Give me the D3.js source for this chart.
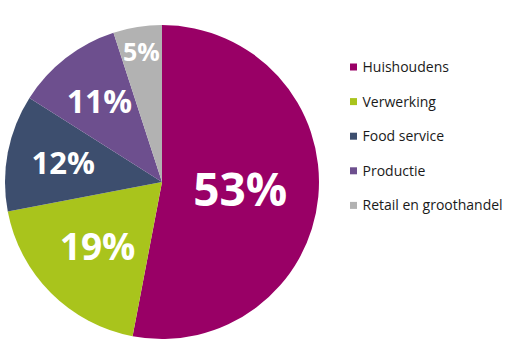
<!DOCTYPE html>
<html>
<head>
<meta charset="utf-8">
<script src="https://cdn.jsdelivr.net/npm/d3@7"></script>
<style>
  html, body { margin: 0; padding: 0; background: #ffffff; }
  svg { display: block; }
</style>
</head>
<body>
<svg id="chart" width="527" height="358"></svg>
<script>
const categories = ["Huishoudens", "Verwerking", "Food service", "Productie", "Retail en groothandel"];
const values = [53, 19, 12, 11, 5];
const labels = ["53%", "19%", "12%", "11%", "5%"];
const colors = ["#990066", "#A9C41C", "#3D4E6E", "#6D4F8E", "#B2B2B2"];

// layout (not data)
const labelRadiusFrac = [0.50, 0.58, 0.64, 0.65, 0.84];
const labelFontSize = [46, 37, 31, 32, 25];

const svg = d3.select("#chart");
const cx = 162, cy = 182, r = 157;

const pie = d3.pie().sort(null).value(d => d)(values);
const arc = d3.arc().innerRadius(0).outerRadius(r);

const g = svg.append("g").attr("transform", `translate(${cx},${cy})`);
g.selectAll("path.slice")
  .data(pie)
  .join("path")
  .attr("class", "slice")
  .attr("d", arc)
  .attr("fill", (d, i) => colors[i]);

g.selectAll("text.lbl")
  .data(pie)
  .join("text")
  .attr("class", "lbl")
  .attr("transform", (d, i) => {
    const a = d3.arc().innerRadius(r * labelRadiusFrac[i]).outerRadius(r * labelRadiusFrac[i]);
    const c = a.centroid(d);
    return `translate(${c[0]},${c[1]})`;
  })
  .attr("text-anchor", "middle")
  .attr("dy", "0.36em")
  .attr("fill", "#ffffff")
  .attr("font-family", "'Open Sans', sans-serif")
  .attr("font-weight", "bold")
  .attr("font-size", (d, i) => labelFontSize[i])
  .text((d, i) => labels[i]);

const legend = svg.append("g").attr("transform", "translate(350,67)");
const row = legend.selectAll("g.item")
  .data(categories)
  .join("g")
  .attr("class", "item")
  .attr("transform", (d, i) => `translate(0,${i * 34.6})`);
row.append("rect")
  .attr("x", 0).attr("y", -3.5)
  .attr("width", 7).attr("height", 7)
  .attr("fill", (d, i) => colors[i]);
row.append("text")
  .attr("x", 12.5)
  .attr("dy", "0.35em")
  .attr("font-family", "'Open Sans', sans-serif")
  .attr("font-size", 14)
  .attr("fill", "#1a1a1a")
  .text(d => d);
</script>
</body>
</html>
